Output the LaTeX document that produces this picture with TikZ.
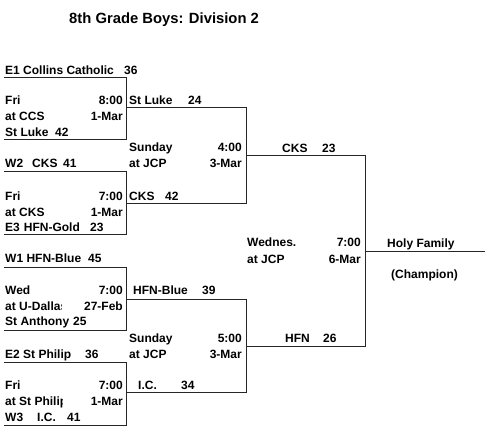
\documentclass[tikz,border=0pt]{standalone}
\usepackage{fontspec}
\setmainfont{Liberation Sans}
\usetikzlibrary{positioning}

\begin{document}
\begin{tikzpicture}[
  x=1pt, y=-1pt,
  font=\fontsize{12}{14}\selectfont\bfseries,
  txt/.style={inner sep=0pt, anchor=base west},
  rtxt/.style={inner sep=0pt, anchor=base east},
  ttl/.style={txt, font=\fontsize{14.8}{17}\selectfont\bfseries},
  brk/.style={draw=black!85, line width=0.9pt}]
  \useasboundingbox[fill=white] (0,0) rectangle (500,447);

  \node[ttl] (title) at (69,23) {8th Grade Boys: Division 2};

  % bracket lines
  \foreach \ya/\yb in {77/139, 171/234, 267/330, 362/425}
    \draw[brk] (4,\ya) -| (126,\yb) -- (4,\yb);
  \foreach \ya/\yb in {107/203, 299/392}
    \draw[brk] (126,\ya) -| (246,\yb) -- (126,\yb);
  \draw[brk] (246,155) -| (365,346) -- (246,346);
  \draw[brk] (365,251) -- (485,251);

  % game 1
  \node[txt] (e1) at (5,74) {E1 Collins Catholic};
  \node[txt] (e1s) at (124,74) {36};
  \node[txt] (g1day) at (5,104) {Fri};
  \node[rtxt] (g1time) at (123,104) {8:00};
  \node[txt] (g1loc) at (5,120) {at CCS};
  \node[rtxt] (g1date) at (123,120) {1-Mar};
  \node[txt] (sl) at (5,136) {St Luke};
  \node[txt] (sls) at (55,136) {42};

  % game 2
  \node[txt] (w2) at (5,167) {W2\hspace{9pt}CKS};
  \node[txt] (w2s) at (63,167) {41};
  \node[txt] (g2day) at (5,200) {Fri};
  \node[rtxt] (g2time) at (123,200) {7:00};
  \node[txt] (g2loc) at (5,216) {at CKS};
  \node[rtxt] (g2date) at (123,216) {1-Mar};
  \node[txt] (e3) at (5,231) {E3\hspace{4pt}HFN-Gold};
  \node[txt] (e3s) at (90,231) {23};

  % game 3
  \node[txt] (w1) at (5,262) {W1 HFN-Blue};
  \node[txt] (w1s) at (88,262) {45};
  \node[txt] (g3day) at (5,294) {Wed};
  \node[rtxt] (g3time) at (123,294) {7:00};
  \begin{scope}
    \clip (0,298) rectangle (61.5,316);
    \node[txt] (g3loc) at (5,310) {at U-Dallas};
  \end{scope}
  \node[rtxt] (g3date) at (123,310) {27-Feb};
  \node[txt] (sa) at (5,325) {St Anthony};
  \node[txt] (sas) at (73,325) {25};

  % game 4
  \node[txt] (e2) at (5,358) {E2 St Philip};
  \node[txt] (e2s) at (85,358) {36};
  \node[txt] (g4day) at (5,389) {Fri};
  \node[rtxt] (g4time) at (123,389) {7:00};
  \begin{scope}
    \clip (0,393) rectangle (62,410);
    \node[txt] (g4loc) at (5,405) {at St Philip};
  \end{scope}
  \node[rtxt] (g4date) at (123,405) {1-Mar};
  \node[txt] (w3) at (5,421) {W3\hspace{14pt}I.C.};
  \node[txt] (w3s) at (67,421) {41};

  % semifinals
  \node[txt] (q1) at (129,104) {St Luke};
  \node[txt] (q1s) at (188,104) {24};
  \node[txt] (s1day) at (129,151) {Sunday};
  \node[rtxt] (s1time) at (242,151) {4:00};
  \node[txt] (s1loc) at (129,167) {at JCP};
  \node[rtxt] (s1date) at (242,167) {3-Mar};
  \node[txt] (q2) at (129,200) {CKS};
  \node[txt] (q2s) at (165,200) {42};

  \node[txt] (q3) at (133,294) {HFN-Blue};
  \node[txt] (q3s) at (202,294) {39};
  \node[txt] (s2day) at (129,342) {Sunday};
  \node[rtxt] (s2time) at (242,342) {5:00};
  \node[txt] (s2loc) at (129,358) {at JCP};
  \node[rtxt] (s2date) at (242,358) {3-Mar};
  \node[txt] (q4) at (138,389) {I.C.};
  \node[txt] (q4s) at (181,389) {34};

  % final
  \node[txt] (f1) at (282,152) {CKS};
  \node[txt] (f1s) at (322,152) {23};
  \node[txt] (fday) at (247,246) {Wednes.};
  \node[rtxt] (ftime) at (361,246) {7:00};
  \node[txt] (floc) at (247,263) {at JCP};
  \node[rtxt] (fdate) at (361,263) {6-Mar};
  \node[txt] (f2) at (285,342) {HFN};
  \node[txt] (f2s) at (323,342) {26};

  \node[txt] (champ) at (387,247) {Holy Family};
  \node[txt] (champlbl) at (391,278) {(Champion)};
\end{tikzpicture}
\end{document}
